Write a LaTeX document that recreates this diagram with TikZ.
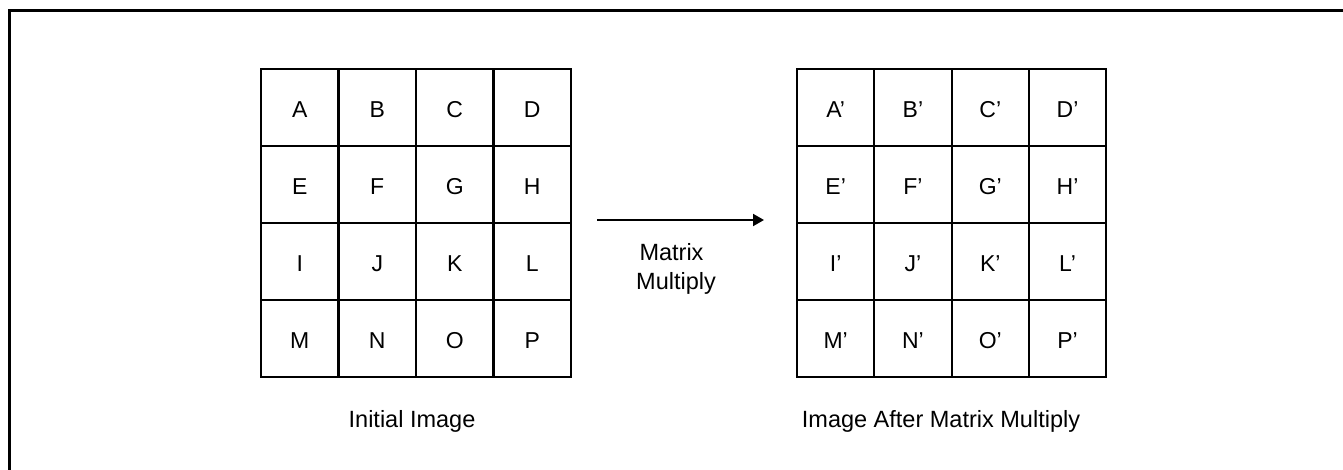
\documentclass[tikz,border=0pt]{standalone}
\usepackage{fontspec}
\setmainfont{Liberation Sans}
\usetikzlibrary{arrows.meta}

\tikzset{
  frame/.style={line width=3pt},
  cell/.style={draw, line width=2pt, rectangle, inner sep=0pt,
    minimum width=77.4pt, minimum height=77pt,
    text height=20pt, text depth=0pt, font=\fontsize{23}{27}\selectfont},
  caption/.style={font=\fontsize{23.5}{28.5}\selectfont, inner sep=0pt, anchor=base},
  flow/.style={line width=2pt, -{Triangle[length=11pt,width=12pt]}}
}

\begin{document}
\begin{tikzpicture}[x=1pt, y=-1pt]
  \useasboundingbox (0,0) rectangle (1343,470);

  % open frame: only the top and left edges fall inside the page
  \draw[frame] (9,470) -- (9,11) -- (1343,11);

  % source grid, 4x4 cells
  \foreach \r/\row in {0/{A,B,C,D},1/{E,F,G,H},2/{I,J,K,L},3/{M,N,O,P}} {
    \foreach \t [count=\c from 0] in \row {
      \node[cell] (src-\r-\c) at ({261+38.75+77.5*\c},{69+38.5+77*\r}) {\t};
    }
  }

  % result grid, 4x4 cells with primed entries
  \foreach \r/\row in {0/{A,B,C,D},1/{E,F,G,H},2/{I,J,K,L},3/{M,N,O,P}} {
    \foreach \t [count=\c from 0] in \row {
      \node[cell] (dst-\r-\c) at ({797+38.65+77.3*\c},{69+38.5+77*\r}) {\t’};
    }
  }

  % transformation arrow and its label
  \coordinate (arrS) at (597,220);
  \coordinate (arrE) at (764,220);
  \draw[flow] (arrS) -- (arrE);
  \node[caption] (op1) at (671.5,261) {Matrix};
  \node[caption] (op2) at (676,289) {Multiply};

  % captions
  \node[caption] (capS) at (412,427) {Initial Image};
  \node[caption] (capD) at (941,427) {Image After Matrix Multiply};
\end{tikzpicture}
\end{document}
